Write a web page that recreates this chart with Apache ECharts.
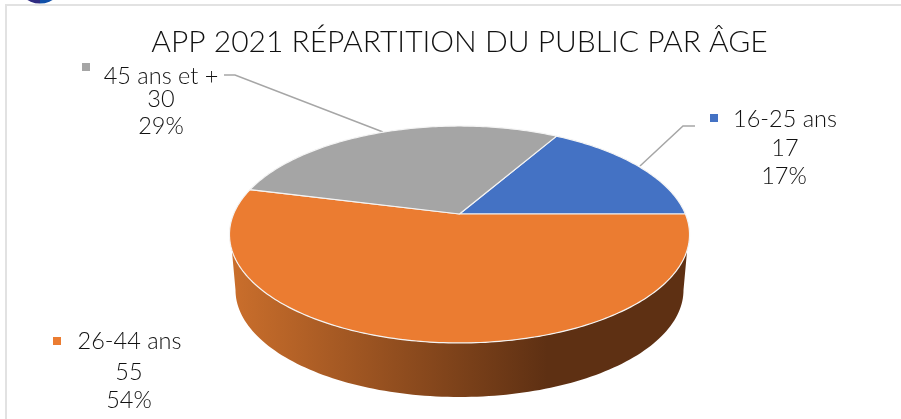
<!DOCTYPE html>
<html><head><meta charset="utf-8">
<style>html,body{margin:0;padding:0;background:#fff}#c{width:901px;height:419px}</style>
<script src="https://cdn.jsdelivr.net/npm/echarts@6/dist/echarts.min.js"></script>
</head><body><div id="c"></div>
<script>
const titleText = 'APP 2021 RÉPARTITION DU PUBLIC PAR ÂGE';
const categories = ['16-25 ans', '26-44 ans', '45 ans et +'];
const values = [17, 55, 30];
const percentLabels = ['17%', '54%', '29%'];
const sliceColors = ['#4472C4', '#EB7C31', '#A5A5A5'];

const FONT = 'Lato';
const INK = '#111111';
const total = values.reduce((a, b) => a + b, 0);
const startDeg = -360 * values[0] / total;   // first slice ends on the horizontal

// Tilted-disc projection: unit circle -> screen
const apex = { x: 459.5, y: 214 }, Sx = 225.9, Sy = 104.6, persp = 0.1889;
const project = t => {
  const X = Math.cos(t), Y = Math.sin(t), w = 1 - persp * Y;
  return [apex.x + Sx * X / w, apex.y + Sy * Y / w];
};
const rimEllipse = { cx: 459.5, cy: 234.5, a: 230, b: 108.5 };
const baseEllipse = { cx: 459.5, cy: 290, a: 224, b: 107 };
const onEllipse = (e, t) => [e.cx + e.a * Math.cos(t), e.cy + e.b * Math.sin(t)];

function arcPoints(a0, a1) {
  const n = Math.max(8, Math.ceil((a1 - a0) * 60)), pts = [];
  for (let i = 0; i <= n; i++) pts.push(project(a0 + (a1 - a0) * i / n));
  return pts;
}
function wallPoints() {
  const pts = [];
  const t0 = Math.asin(15.5 / rimEllipse.b);      // where the wall meets the rim
  for (let i = 0; i <= 120; i++) pts.push(onEllipse(rimEllipse, t0 + (Math.PI - 2 * t0) * i / 120));
  for (let i = 0; i <= 120; i++) pts.push(onEllipse(baseEllipse, Math.PI - Math.PI * i / 120));
  return pts;
}

function renderItem(params, api) {
  const i = params.dataIndex;
  let before = 0;
  for (let k = 0; k < i; k++) before += values[k];
  const a0 = (startDeg + 360 * before / total) * Math.PI / 180;
  const a1 = (startDeg + 360 * (before + api.value(0)) / total) * Math.PI / 180;
  const children = [];
  if (a1 > Math.PI / 2 && a0 < Math.PI / 2) {
    children.push({
      type: 'polygon', shape: { points: wallPoints() },
      style: {
        fill: new echarts.graphic.LinearGradient(229, 0, 690, 0, [
          { offset: 0, color: '#CB6F2C' },
          { offset: 0.69, color: '#5E3013' },
          { offset: 1, color: '#5E3013' }
        ], true)
      }
    });
  }
  children.push({
    type: 'polygon',
    shape: { points: [[apex.x, apex.y]].concat(arcPoints(a0, a1)) },
    style: { fill: sliceColors[i], stroke: '#f4f4f4', lineWidth: 1.2, lineJoin: 'round' }
  });
  return { type: 'group', children };
}

const labelLayout = [
  { square: [710, 114], head: [785, 119], num: [785, 148.5], pct: [784, 176] },
  { square: [53, 337], head: [129.5, 341], num: [129, 372], pct: [129, 400] },
  { square: [82, 63], head: [161, 76], num: [161, 99], pct: [161, 126] }
];
const labelGraphics = [];
categories.forEach((c, i) => {
  const L = labelLayout[i];
  labelGraphics.push({ type: 'rect', shape: { x: L.square[0], y: L.square[1], width: 8, height: 8 }, style: { fill: sliceColors[i] } });
  [[c, L.head], [String(values[i]), L.num], [percentLabels[i], L.pct]].forEach(([t, p]) => {
    labelGraphics.push({ type: 'text', x: p[0], y: p[1], style: { text: t, fill: INK, font: '300 23.5px ' + FONT, textAlign: 'center', textVerticalAlign: 'middle' } });
  });
});

const chart = echarts.init(document.getElementById('c'), null, { renderer: 'canvas' });
chart.setOption({
  animation: false,
  backgroundColor: '#fff',
  title: { text: titleText, left: 454.5, textAlign: 'center', top: 22,
    textStyle: { fontFamily: FONT, fontWeight: 300, fontSize: 30, color: INK } },
  series: [{ type: 'custom', coordinateSystem: 'none', renderItem, silent: true,
    data: values.map((v, i) => ({ name: categories[i], value: v })) }],
  graphic: [
    { type: 'rect', shape: { x: 5, y: 4, width: 896, height: 2 }, style: { fill: '#E2E2E2' } },
    { type: 'rect', shape: { x: 5, y: 4, width: 2, height: 415 }, style: { fill: '#E2E2E2' } },
    { type: 'sector', shape: { cx: 40, cy: -21, r0: 0, r: 24.5, startAngle: Math.PI / 2, endAngle: Math.PI }, style: { fill: '#2E2A80' } },
    { type: 'sector', shape: { cx: 40, cy: -21, r0: 0, r: 24.5, startAngle: 0, endAngle: Math.PI / 2 }, style: { fill: '#0F4FA8' } },
    { type: 'polyline', shape: { points: [[224, 75], [235, 75], [383, 132]] }, style: { stroke: '#A6A6A6', lineWidth: 1.5, fill: 'none' } },
    { type: 'polyline', shape: { points: [[695, 126], [683, 126], [640, 166]] }, style: { stroke: '#A6A6A6', lineWidth: 1.5, fill: 'none' } }
  ].concat(labelGraphics)
});
</script></body></html>
